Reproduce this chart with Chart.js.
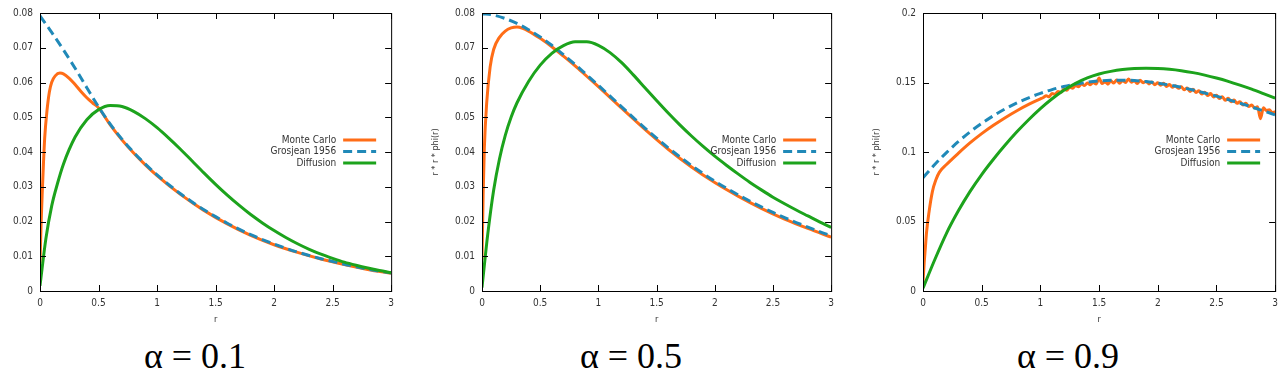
<!DOCTYPE html>
<html lang="en">
<head>
<meta charset="UTF-8">
<title>r*r*phi(r) profiles</title>
<script src="https://cdn.jsdelivr.net/npm/chart.js"></script>
<style>
  body { margin: 0; background: #fff; width: 1284px; height: 375px; position: relative; overflow: hidden; }
  .panel { position: absolute; top: 0; }
  .alpha { position: absolute; top: 338px; font-family: 'Liberation Serif', serif; font-size: 36px; line-height: 36px;
           transform: translateX(-50%); white-space: nowrap; color: #000; }
</style>
</head>
<body>
<canvas id="c1" class="panel" width="400" height="330" style="left:0px"></canvas>
<canvas id="c2" class="panel" width="415" height="330" style="left:425px"></canvas>
<canvas id="c3" class="panel" width="414" height="330" style="left:870px"></canvas>
<div class="alpha" style="left:195px">α = 0.1</div>
<div class="alpha" style="left:631px">α = 0.5</div>
<div class="alpha" style="left:1068px">α = 0.9</div>

<script>
// ---- data ----
const seriesNames = ['Monte Carlo', 'Grosjean 1956', 'Diffusion'];

// common r grid for the smooth curves
const rGrid = [0, 0.1, 0.2, 0.3, 0.4, 0.5, 0.6, 0.7, 0.8, 0.9, 1.0, 1.1, 1.2, 1.3, 1.4, 1.5, 1.6, 1.7, 1.8, 1.9, 2.0,
               2.1, 2.2, 2.3, 2.4, 2.5, 2.6, 2.7, 2.8, 2.9, 3.0];
const rDiff = [0, 0.05, 0.1, 0.15, 0.2, 0.3, 0.4, 0.5, 0.6, 0.7, 0.8, 0.9, 1.0, 1.1, 1.2, 1.3, 1.4, 1.5, 1.6, 1.7, 1.8, 1.9, 2.0,
               2.1, 2.2, 2.3, 2.4, 2.5, 2.6, 2.7, 2.8, 2.9, 3.0];
const rDiff2 = [0, 0.05, 0.1, 0.15, 0.2, 0.25, 0.3, 0.4, 0.5, 0.6, 0.7, 0.8, 0.9, 1.0, 1.1, 1.2, 1.3, 1.4, 1.5, 1.6, 1.7, 1.8, 1.9, 2.0,
                2.1, 2.2, 2.3, 2.4, 2.5, 2.6, 2.7, 2.8, 2.9, 3.0];

// alpha = 0.1
const r1Mc = [0, 0.01, 0.02, 0.03, 0.04, 0.06, 0.08, 0.1, 0.13, 0.17, 0.2, 0.25, 0.3, 0.35, 0.4, 0.45, 0.5,
              0.6, 0.7, 0.8, 0.9, 1.0, 1.2, 1.4, 1.6, 1.8, 2.0, 2.2, 2.4, 2.6, 2.8, 3.0];
const mc1 = [0.008, 0.020, 0.029, 0.037, 0.044, 0.052, 0.0573, 0.0601, 0.0619, 0.0627, 0.0625, 0.0612, 0.0594, 0.0574, 0.0556, 0.0541, 0.0527,
             0.0478, 0.0435, 0.0397, 0.0363, 0.0332, 0.0278, 0.0232, 0.0193, 0.0160, 0.0133, 0.0111, 0.0092, 0.0076, 0.0062, 0.0051];
const gj1 = [0.0792, 0.0744, 0.0694, 0.0641, 0.0585, 0.0530, 0.0480, 0.0437, 0.0399, 0.0365, 0.0334, 0.0306, 0.0280, 0.0256, 0.0234, 0.0214,
             0.0195, 0.0178, 0.0162, 0.0148, 0.0135, 0.0123, 0.0112, 0.0102, 0.0093, 0.0085, 0.0077, 0.0070, 0.0063, 0.0057, 0.0052];
const df1 = [0.0015, 0.0150, 0.0245, 0.0310, 0.0365, 0.0443, 0.0493, 0.0522, 0.0534, 0.0531, 0.0517, 0.0496, 0.0470, 0.0440, 0.0408, 0.0374,
             0.0340, 0.0307, 0.0276, 0.0247, 0.0220, 0.0196, 0.0174, 0.0154, 0.0136, 0.0120, 0.0106, 0.0094, 0.0083, 0.0074, 0.0066, 0.0059, 0.0053];

// alpha = 0.5
const r2Mc = [0, 0.01, 0.02, 0.04, 0.07, 0.1, 0.15, 0.2, 0.25, 0.3, 0.35, 0.4, 0.5,
              0.6, 0.7, 0.8, 0.9, 1.0, 1.2, 1.4, 1.6, 1.8, 2.0, 2.2, 2.4, 2.6, 2.8, 3.0];
const mc2 = [0.009, 0.028, 0.041, 0.054, 0.0645, 0.0695, 0.0730, 0.0748, 0.0757, 0.0760, 0.0756, 0.0748, 0.0727,
             0.0703, 0.0676, 0.0648, 0.0618, 0.0588, 0.0526, 0.0465, 0.0408, 0.0357, 0.0312, 0.0273, 0.0238, 0.0207, 0.0180, 0.0155];
const gj2 = [0.0798, 0.0794, 0.0784, 0.0770, 0.0752, 0.0731, 0.0707, 0.0680, 0.0652, 0.0622, 0.0592, 0.0561, 0.0530, 0.0499, 0.0469, 0.0440,
             0.0412, 0.0386, 0.0361, 0.0338, 0.0316, 0.0296, 0.0277, 0.0259, 0.0242, 0.0226, 0.0211, 0.0197, 0.0184, 0.0171, 0.0159];
const df2 = [0.001, 0.0165, 0.0290, 0.0380, 0.0448, 0.0500, 0.0541, 0.0603, 0.0650, 0.0684, 0.0706, 0.0717, 0.0717, 0.0707, 0.0686, 0.0657,
             0.0622, 0.0585, 0.0548, 0.0512, 0.0478, 0.0446, 0.0416, 0.0388, 0.0362, 0.0337, 0.0313, 0.0291, 0.0270, 0.0251, 0.0233, 0.0216, 0.0199, 0.0183];

// alpha = 0.9 (Monte Carlo is noisy past r = 1)
const r3Mc = [0, 0.01, 0.02, 0.03, 0.05, 0.08, 0.11, 0.14, 0.2, 0.3, 0.4, 0.5, 0.6, 0.7, 0.8, 0.9, 1.0,
              1.025, 1.05, 1.075, 1.1, 1.125, 1.15, 1.175, 1.2, 1.225, 1.25, 1.275, 1.3, 1.325, 1.35, 1.375, 1.4, 1.425, 1.45, 1.475, 1.5,
              1.525, 1.55, 1.575, 1.6, 1.625, 1.65, 1.675, 1.7, 1.725, 1.75, 1.775, 1.8, 1.825, 1.85, 1.875, 1.9, 1.925, 1.95, 1.975, 2.0,
              2.025, 2.05, 2.075, 2.1, 2.125, 2.15, 2.175, 2.2, 2.225, 2.25, 2.275, 2.3, 2.325, 2.35, 2.375, 2.4, 2.425, 2.45, 2.475, 2.5,
              2.525, 2.55, 2.575, 2.6, 2.625, 2.65, 2.675, 2.7, 2.725, 2.75, 2.775, 2.8, 2.825, 2.85, 2.875, 2.9, 2.925, 2.95, 2.975, 3.0];
const mc3 = [0.006, 0.020, 0.031, 0.042, 0.056, 0.0715, 0.080, 0.0855, 0.0910, 0.0990, 0.1065, 0.1132, 0.1192, 0.1247, 0.1297, 0.1342, 0.1382,
             0.1392, 0.1404, 0.1398, 0.1421, 0.1415, 0.1436, 0.1429, 0.1452, 0.1444, 0.1466, 0.1458, 0.1478, 0.1470, 0.1490, 0.1478, 0.1496, 0.1484, 0.1500, 0.1490, 0.1532,
             0.1492, 0.1506, 0.1488, 0.1512, 0.1496, 0.1518, 0.1494, 0.1514, 0.1500, 0.1526, 0.1502, 0.1512, 0.1492, 0.1516, 0.1498, 0.1508, 0.1490, 0.1504, 0.1484, 0.1498,
             0.1480, 0.1494, 0.1472, 0.1486, 0.1466, 0.1476, 0.1458, 0.1470, 0.1448, 0.1460, 0.1436, 0.1452, 0.1428, 0.1440, 0.1418, 0.1430, 0.1406, 0.1420, 0.1396, 0.1408,
             0.1384, 0.1398, 0.1372, 0.1386, 0.1362, 0.1374, 0.1350, 0.1362, 0.1338, 0.1350, 0.1328, 0.1338, 0.1316, 0.1326, 0.1240, 0.1318, 0.1298, 0.1304, 0.1284, 0.1290];
const gj3 = [0.0815, 0.0910, 0.0996, 0.1074, 0.1144, 0.1206, 0.1261, 0.1310, 0.1353, 0.1390, 0.1422, 0.1449, 0.1471, 0.1489, 0.1502, 0.1511,
             0.1516, 0.1517, 0.1514, 0.1507, 0.1496, 0.1482, 0.1465, 0.1446, 0.1425, 0.1402, 0.1377, 0.1351, 0.1324, 0.1296, 0.1267];
const df3 = [0.002, 0.0225, 0.0415, 0.0575, 0.0715, 0.0838, 0.0948, 0.1050, 0.1145, 0.1232, 0.1312, 0.1383, 0.1444, 0.1494, 0.1533, 0.1561,
             0.1580, 0.1593, 0.1600, 0.1603, 0.1601, 0.1595, 0.1585, 0.1571, 0.1553, 0.1532, 0.1508, 0.1481, 0.1452, 0.1420, 0.1387];

const colors = ['#ff6d17', '#2089b8', '#1ca31c'];
const sansFamily = '"DejaVu Sans Condensed", "DejaVu Sans", sans-serif';
const tickFont = { family: sansFamily, size: 10 };

function pts(xs, ys) {
    return xs.map((x, i) => ({ x: x, y: ys[i] }));
}

// gnuplot-like frame, inward mirrored ticks and the key on the right
const framePlugin = {
    id: 'frame',
    afterDatasetsDraw(chart) {
        const { ctx, chartArea: a, scales: { x, y } } = chart;
        ctx.save();
        ctx.strokeStyle = '#000';
        ctx.lineWidth = 1;
        ctx.strokeRect(a.left + 0.5, a.top + 0.5, a.right - a.left, a.bottom - a.top);
        ctx.beginPath();
        x.ticks.forEach(t => {
            const px = Math.round(x.getPixelForValue(t.value)) + 0.5;
            ctx.moveTo(px, a.bottom); ctx.lineTo(px, a.bottom - 6);
            ctx.moveTo(px, a.top); ctx.lineTo(px, a.top + 6);
        });
        y.ticks.forEach(t => {
            const py = Math.round(y.getPixelForValue(t.value)) + 0.5;
            ctx.moveTo(a.left, py); ctx.lineTo(a.left + 6, py);
            ctx.moveTo(a.right, py); ctx.lineTo(a.right - 6, py);
        });
        ctx.stroke();

        // key
        chart.data.datasets.forEach((ds, i) => {
            const yy = a.top + 127 + i * 11.5;
            const x1 = a.right - 15, x0 = x1 - 33;
            ctx.strokeStyle = ds.borderColor;
            ctx.lineWidth = 3;
            ctx.setLineDash(ds.borderDash || []);
            ctx.beginPath();
            ctx.moveTo(x0, yy); ctx.lineTo(x1, yy);
            ctx.stroke();
            ctx.setLineDash([]);
            ctx.fillStyle = '#333';
            ctx.font = '10px ' + sansFamily;
            ctx.textAlign = 'right';
            ctx.textBaseline = 'middle';
            ctx.fillText(ds.label, x0 - 7, yy);
        });
        ctx.restore();
    }
};

function makeChart(id, mc, gj, df, yMax, yStep, yWidth, padRight, yTitle, yTitlePad) {
    const ctx = document.getElementById(id).getContext('2d');
    return new Chart(ctx, {
        type: 'line',
        data: {
            datasets: [
                { label: seriesNames[0], data: mc, borderColor: colors[0], borderWidth: 3, order: 3 },
                { label: seriesNames[1], data: gj, borderColor: colors[1], borderWidth: 3, borderDash: [9, 5], order: 2 },
                { label: seriesNames[2], data: df, borderColor: colors[2], borderWidth: 3, order: 1 }
            ]
        },
        options: {
            responsive: false,
            animation: false,
            elements: { point: { radius: 0 }, line: { cubicInterpolationMode: 'monotone', fill: false } },
            layout: { padding: { top: 13, right: padRight, left: 0, bottom: 0 } },
            plugins: { legend: { display: false }, tooltip: { enabled: false } },
            scales: {
                x: {
                    type: 'linear', min: 0, max: 3,
                    grid: { display: false, drawTicks: false },
                    border: { display: false },
                    ticks: { stepSize: 0.5, font: tickFont, color: '#333', padding: 6, callback: v => String(v) },
                    title: { display: true, text: 'r', font: { family: sansFamily, size: 9 }, color: '#333', padding: { top: 2, bottom: 5 } },
                    afterFit: s => { s.height = 39; }
                },
                y: {
                    min: 0, max: yMax,
                    grid: { display: false, drawTicks: false },
                    border: { display: false },
                    ticks: { stepSize: yStep, font: tickFont, color: '#333', padding: 7,
                             callback: v => String(+v.toFixed(2)) },
                    title: { display: !!yTitle, text: yTitle, font: { family: sansFamily, size: 9 }, color: '#333', padding: { top: yTitlePad, bottom: 0 } },
                    afterFit: s => { s.width = yWidth; }
                }
            }
        },
        plugins: [framePlugin]
    });
}

makeChart('c1', pts(r1Mc, mc1), pts(rGrid, gj1), pts(rDiff, df1), 0.08, 0.01, 40, 7, '', 0);
makeChart('c2', pts(r2Mc, mc2), pts(rGrid, gj2), pts(rDiff2, df2), 0.08, 0.01, 57, 6, 'r * r * phi(r)', 5);
makeChart('c3', pts(r3Mc, mc3), pts(rGrid, gj3), pts(rGrid, df3), 0.2, 0.05, 53, 8, 'r * r * phi(r)', 1);
</script>
</body>
</html>
